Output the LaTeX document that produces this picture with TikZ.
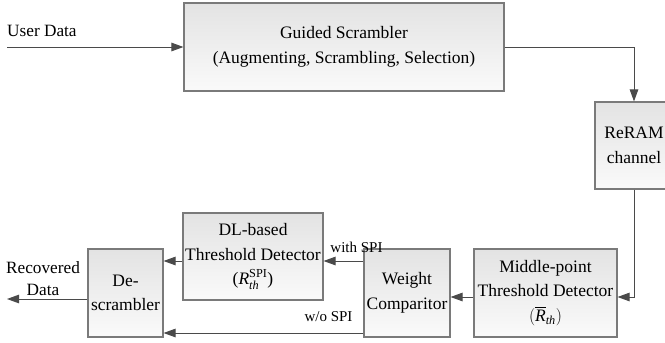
\documentclass[tikz,border=0pt]{standalone}
\usepackage{fontspec}
\usepackage{amsmath}
\setmainfont{Liberation Serif}
\usetikzlibrary{arrows.meta}
\definecolor{boxgray}{HTML}{7A7A7A}
\definecolor{arrgray}{HTML}{4A4A4A}
\begin{document}
\begin{tikzpicture}[x=1pt,y=-1pt,
  box/.style={draw=boxgray, line width=1.1pt, top color=black!11, bottom color=black!2,
    align=center, inner sep=0pt, font=\fontsize{17.5}{24.5}\selectfont},
  arr/.style={draw=arrgray, line width=1pt, -{Triangle[length=12pt,width=8.5pt]}},
  lbl/.style={inner sep=0pt, align=center, font=\fontsize{17.25}{22}\selectfont},
  slbl/.style={inner sep=0pt, font=\fontsize{15}{18}\selectfont}]
\clip (0,0) rectangle (665,343);
\fill[white] (0,0) rectangle (665,343);
% boxes
\node[box, minimum width=320, minimum height=88] (scr) at (344,47)
  {Guided Scrambler\\(Augmenting, Scrambling, Selection)};
\node[box, minimum width=78, minimum height=87] (reram) at (634,145.5)
  {ReRAM\\channel};
\node[box, minimum width=143, minimum height=88] (mid) at (545.5,293)
  {Middle-point\\Threshold Detector\\$(\overline{\textit{R}}_{\textit{th}})$};
\node[box, minimum width=86, minimum height=88] (wc) at (407,293)
  {Weight\\Comparitor};
\node[box, minimum width=140, minimum height=87] (dl) at (253,256.5)
  {DL-based\\Threshold Detector\\$\text{(}\textit{R}^{\text{SPI}}_{\textit{th}}\text{)}$};
\node[box, minimum width=75, minimum height=88] (des) at (125.5,293)
  {De-\\scrambler};
% labels
\node[lbl, anchor=west] (ud) at (7,31) {User Data};
\node[lbl] (rd) at (43,279) {Recovered\\Data};
\node[slbl] (ws) at (356.5,247) {with SPI};
\node[slbl] (wo) at (328.5,317) {w/o SPI};
% coordinates
\coordinate (in) at (7,47);
\coordinate (out) at (7,299);
\coordinate (r261) at (0,261);
\coordinate (r297) at (0,297);
\coordinate (r333) at (0,333);
\coordinate (r299) at (0,299);
% connectors
\draw[arr] (in) -- (scr.west);
\draw[arr] (scr.east) -| (reram.north);
\draw[arr] (reram.south) |- (mid.east |- r297);
\draw[arr] (mid.west |- r297) -- (wc.east |- r297);
\draw[arr] (wc.west |- r261) -- (dl.east |- r261);
\draw[arr] (dl.west |- r261) -- (des.east |- r261);
\draw[arr] (wc.west |- r333) -- (des.east |- r333);
\draw[arr] (des.west |- r299) -- (out);
\end{tikzpicture}
\end{document}
